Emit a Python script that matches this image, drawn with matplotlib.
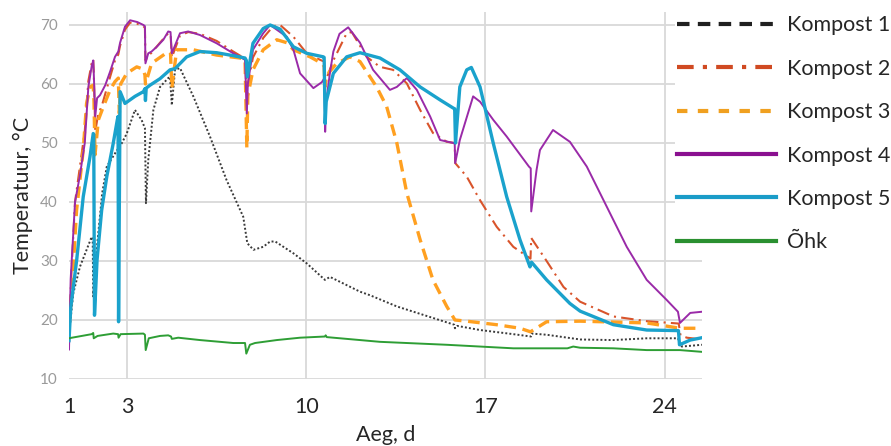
import matplotlib
matplotlib.use("Agg")
import matplotlib.pyplot as plt
from matplotlib.lines import Line2D

plt.rcParams['font.family'] = ['Lato', 'DejaVu Sans']

# ---------------- data (days, °C) ----------------
k1_x = [0.734, 0.90, 1.16, 1.62, 1.66, 1.68, 1.84, 2.03, 2.21, 2.54, 2.80, 2.99, 3.31, 3.57, 3.70, 3.74,
        3.83, 4.03, 4.29, 4.61, 4.68, 4.75, 4.875, 5.07, 5.59, 6.24, 6.89, 7.54, 7.70, 7.94, 8.32, 8.59,
        8.79, 9.50, 10.02, 10.73, 10.93, 12.10, 12.49, 13.54, 14.84, 15.78, 15.81, 15.90, 16.79, 18.09,
        18.78, 18.81, 19.39, 20.70, 22.0, 23.30, 24.52, 24.67, 25.46]
k1_y = [17.5, 24.5, 29.0, 34.1, 33.5, 24.0, 33.0, 41.5, 46.0, 48.3, 50.0, 51.6, 55.6, 53.9, 52.5, 39.8,
        47.1, 55.6, 59.5, 61.0, 61.2, 56.4, 62.4, 62.7, 57.9, 51.1, 43.7, 37.5, 33.0, 31.9, 32.4, 33.3,
        33.3, 31.3, 29.6, 26.8, 27.3, 24.8, 24.2, 22.3, 20.5, 19.2, 18.6, 19.0, 18.3, 17.6,
        17.2, 17.7, 17.5, 16.7, 16.6, 16.9, 16.9, 15.5, 15.8]

k2_x = [0.734, 0.85, 0.97, 1.16, 1.35, 1.49, 1.62, 1.68, 1.70, 1.76, 1.88, 2.01, 2.34, 2.53, 2.66, 2.73,
        2.92, 3.12, 3.40, 3.64, 3.70, 3.72, 3.83, 3.96, 4.29, 4.61, 4.70, 4.75, 5.07, 5.39, 5.85, 6.50,
        7.15, 7.61, 7.68, 7.72, 7.92, 8.32, 8.71, 8.98, 9.50, 10.02, 10.54, 10.70, 10.73, 10.80, 11.06,
        11.58, 11.78, 12.36, 12.88, 13.39, 13.93, 14.45, 14.95, 15.49, 15.80, 15.82, 16.27, 16.79, 17.44,
        18.09, 18.76, 18.79, 19.39, 20.05, 20.70, 22.0, 23.30, 24.55, 24.62, 24.87, 25.46]
k2_y = [18.0, 30.0, 40.0, 46.0, 52.0, 60.5, 63.5, 64.2, 62.0, 52.0, 55.0, 56.2, 61.2, 64.0, 65.0, 66.5,
        69.2, 70.4, 70.2, 69.8, 69.5, 64.0, 64.8, 65.3, 67.0, 68.6, 68.5, 64.5, 68.2, 68.8, 68.5, 67.3,
        65.5, 64.3, 57.0, 60.0, 64.5, 67.8, 69.8, 70.0, 68.0, 65.2, 64.1, 63.8, 59.0, 61.0, 64.0,
        68.6, 68.8, 64.6, 62.9, 62.4, 60.1, 55.6, 51.7, 50.2, 50.0, 46.6, 44.3, 40.3, 35.8,
        32.4, 30.4, 33.9, 30.0, 25.6, 23.1, 20.6, 19.8, 19.4, 17.4, 17.0, 16.7]

k3_x = [0.734, 0.84, 1.03, 1.29, 1.42, 1.555, 1.68, 1.71, 1.75, 1.88, 2.08, 2.34, 2.53, 2.66, 2.70, 2.75,
        2.99, 3.38, 3.64, 3.70, 3.72, 3.96, 4.42, 4.61, 4.70, 4.75, 4.94, 5.59, 6.50, 7.41, 7.61, 7.68,
        7.72, 7.92, 8.32, 8.85, 9.24, 9.50, 10.15, 10.61, 10.70, 10.73, 10.80, 11.19, 11.71, 12.10, 12.75,
        13.14, 13.54, 13.93, 14.45, 14.95, 15.49, 15.81, 16.27, 17.44, 18.35, 18.76, 19.39, 20.70, 23.30,
        24.60, 25.46]
k3_y = [19.0, 24.5, 38.6, 48.8, 56.7, 59.5, 59.8, 57.0, 48.0, 53.9, 56.2, 59.0, 60.4, 61.0, 55.0, 60.0,
        61.8, 62.9, 62.5, 61.5, 60.0, 63.5, 64.9, 65.5, 65.2, 59.3, 65.8, 65.8, 64.9, 64.4, 64.1, 49.2,
        58.0, 62.4, 65.8, 67.5, 67.0, 65.8, 64.6, 63.5, 63.0, 59.5, 61.5, 63.5, 64.6, 63.8, 59.5,
        56.2, 50.0, 41.5, 33.6, 26.8, 22.3, 20.0, 19.8, 19.2, 18.6, 18.0, 19.7, 19.8, 19.5,
        18.6, 18.6]

k4_x = [0.734, 0.80, 0.97, 1.16, 1.35, 1.49, 1.62, 1.68, 1.70, 1.76, 1.83, 1.945, 2.15, 2.34, 2.53, 2.66,
        2.73, 2.92, 3.12, 3.40, 3.64, 3.70, 3.72, 3.83, 3.96, 4.16, 4.42, 4.61, 4.70, 4.75, 5.07, 5.39,
        5.85, 6.50, 7.15, 7.61, 7.68, 7.72, 7.92, 8.32, 8.59, 9.24, 9.50, 9.76, 10.28, 10.61, 10.71,
        10.74, 10.78, 10.93, 11.06, 11.30, 11.64, 12.10, 12.61, 13.27, 13.54, 13.93, 14.32, 14.84, 15.23,
        15.75, 15.80, 15.82, 16.0, 16.52, 16.79, 17.31, 17.83, 18.70, 18.77, 18.79, 19.0, 19.13, 19.64,
        20.30, 20.96, 21.74, 22.52, 23.30, 24.08, 24.52, 24.60, 25.0, 25.46]
k4_y = [15.0, 27.0, 40.0, 44.5, 50.0, 59.5, 63.0, 64.0, 62.0, 54.5, 57.6, 58.1, 59.8, 62.1, 64.6, 65.5,
        67.0, 69.7, 70.8, 70.5, 70.0, 69.8, 63.5, 65.2, 65.5, 66.3, 67.5, 68.9, 68.8, 65.2, 68.6, 68.9,
        68.3, 66.9, 65.2, 64.1, 55.0, 60.0, 65.8, 68.6, 70.0, 68.0, 65.8, 61.8, 59.3, 60.3, 61.0,
        51.9, 57.0, 62.0, 65.5, 68.5, 69.6, 67.0, 62.4, 59.0, 59.5, 61.0, 59.0, 54.5, 50.5,
        50.0, 50.0, 46.6, 50.5, 57.9, 57.0, 53.9, 51.1, 46.0, 45.7, 38.4, 45.5, 48.8, 52.2,
        50.2, 46.0, 39.2, 32.4, 26.8, 23.4, 21.4, 19.5, 21.2, 21.4]

k5_x = [0.734, 0.80, 1.035, 1.29, 1.555, 1.68, 1.70, 1.73, 1.83, 2.01, 2.21, 2.46, 2.62, 2.65, 2.67, 2.73,
        2.92, 3.31, 3.64, 3.70, 3.72, 3.75, 3.90, 4.29, 4.68, 4.875, 5.33, 5.85, 6.50, 7.15, 7.61, 7.66,
        7.70, 7.92, 8.32, 8.59, 8.98, 9.50, 10.02, 10.67, 10.70, 10.74, 10.78, 11.06, 11.58, 12.10, 12.88,
        13.66, 14.45, 15.23, 15.75, 15.80, 15.83, 15.92, 16.0, 16.27, 16.45, 16.79, 17.31, 17.83, 18.35,
        18.74, 18.80, 19.39, 20.30, 20.70, 22.0, 23.30, 24.54, 24.58, 25.0, 25.46]
k5_y = [16.5, 22.0, 30.2, 40.9, 47.7, 51.6, 51.5, 20.8, 30.2, 38.6, 44.3, 49.9, 53.9, 54.5, 19.7, 58.7,
        56.7, 57.9, 58.7, 59.2, 57.2, 59.3, 59.8, 60.9, 62.4, 62.6, 64.6, 65.5, 65.3, 64.8, 64.4, 64.0,
        61.2, 66.9, 69.4, 70.0, 69.3, 66.3, 65.2, 64.6, 64.5, 53.3, 57.0, 61.8, 64.6, 65.3, 64.4,
        62.4, 59.5, 57.3, 55.9, 55.8, 50.0, 55.0, 59.5, 62.4, 62.8, 59.5, 49.9, 40.9, 33.6,
        29.0, 29.8, 26.8, 22.8, 21.5, 19.2, 18.3, 18.2, 15.8, 16.6, 17.0]

ohk_x = [0.734, 0.85, 1.62, 1.68, 1.70, 1.85, 2.46, 2.65, 2.67, 2.75, 3.64, 3.70, 3.73, 3.85, 4.29, 4.61,
         4.72, 4.75, 5.0, 5.85, 7.15, 7.61, 7.66, 7.80, 8.0, 8.85, 9.76, 10.73, 10.76, 10.80, 12.88, 15.49,
         18.09, 20.20, 20.43, 20.70, 22.0, 23.30, 24.60, 25.46]
ohk_y = [16.9, 17.0, 17.6, 17.8, 16.9, 17.3, 17.7, 17.6, 17.0, 17.6, 17.7, 17.5, 14.9, 16.9, 17.3, 17.4,
         17.2, 16.8, 17.0, 16.6, 16.1, 16.1, 14.3, 15.8, 16.1, 16.6, 17.0, 17.2, 17.4, 17.1, 16.3, 15.8,
         15.2, 15.2, 15.5, 15.3, 15.2, 14.9, 14.9, 14.6]

labels = ['Kompost 1', 'Kompost 2', 'Kompost 3', 'Kompost 4', 'Kompost 5', 'Õhk']
x_ticks = [0.734, 3, 10, 17, 24]
x_tick_labels = ['1', '3', '10', '17', '24']
y_ticks = [10, 20, 30, 40, 50, 60, 70]

# ---------------- styling ----------------
c1, c2, c3, c4, c5, c6 = '#3a3a3a', '#D9542B', '#FFA020', '#9A2AA8', '#1AA2CC', '#2E9E35'

fig = plt.figure(figsize=(8.91, 4.46), dpi=100)
ax = fig.add_axes([69 / 891, 67 / 446, 633 / 891, 367 / 446])

ax.plot(k1_x, k1_y, color=c1, lw=1.4, linestyle=(0, (1, 1.1)), zorder=3)
ax.plot(k2_x, k2_y, color=c2, lw=1.5, linestyle=(0, (6, 2.5, 1, 2.5)), zorder=4)
ax.plot(k3_x, k3_y, color=c3, lw=2.4, linestyle=(0, (3.5, 2)), zorder=5)
ax.plot(k4_x, k4_y, color=c4, lw=1.4, zorder=6)
ax.plot(k5_x, k5_y, color=c5, lw=2.4, zorder=7)
ax.plot(ohk_x, ohk_y, color=c6, lw=1.4, zorder=8)

ax.set_xlim(0.734, 25.46)
ax.set_ylim(10, 72.2)
ax.set_xticks(x_ticks)
ax.set_xticklabels(x_tick_labels)
ax.set_yticks(y_ticks)
for s in ax.spines.values():
    s.set_visible(False)
ax.grid(True, color='#D9D9D9', lw=1.3, zorder=0)
ax.set_axisbelow(True)
ax.get_xgridlines()[0].set_visible(False)
ax.tick_params(axis='x', length=0, pad=13, labelsize=15.5, labelcolor='#262626')
ax.tick_params(axis='y', length=0, pad=8, labelsize=11, labelcolor='#9A9A9A')
ax.set_xlabel('Aeg, d', fontsize=15.5, color='#262626', labelpad=6)
ax.set_ylabel('Temperatuur, °C', fontsize=15.5, color='#262626', labelpad=5)

handles = [
    Line2D([], [], color='#202020', lw=3, linestyle=(0, (3, 2))),
    Line2D([], [], color='#D04A22', lw=3, linestyle=(0, (4, 2.2, 1, 2.2))),
    Line2D([], [], color='#F0A020', lw=3, linestyle=(0, (2.5, 2.5))),
    Line2D([], [], color='#8A1090', lw=3),
    Line2D([], [], color='#1A9CC8', lw=3),
    Line2D([], [], color='#2A9030', lw=3),
]
leg = ax.legend(handles, labels, loc='upper left', bbox_to_anchor=(675 / 891, 1 - 13 / 446),
                bbox_transform=fig.transFigure, fontsize=15.5, frameon=True, fancybox=False,
                edgecolor='none', facecolor='white', framealpha=1, borderpad=0.1,
                handlelength=4.6, handletextpad=0.5, labelspacing=1.09, borderaxespad=0)
for t in leg.get_texts():
    t.set_color('#262626')
leg.set_zorder(20)

fig.savefig('out.png', dpi=100)
